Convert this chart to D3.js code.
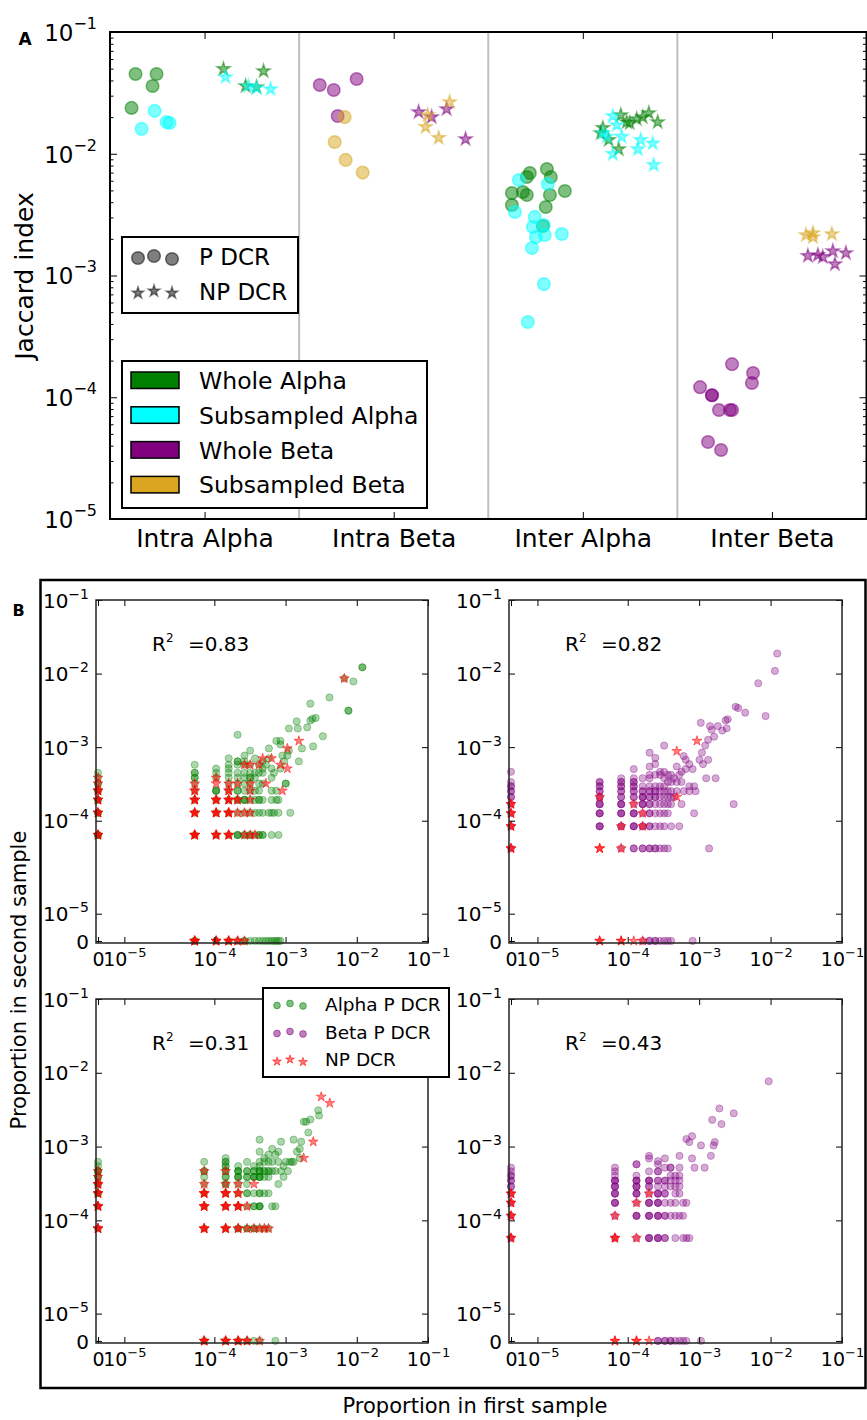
<!DOCTYPE html>
<html>
<head>
<meta charset="utf-8">
<script src="https://cdn.jsdelivr.net/npm/d3@7"></script>
<style>
body { margin: 0; background: #fff; }
svg { display: block; font-family: "DejaVu Sans", sans-serif; }
</style>
</head>
<body>
<svg id="fig" width="867" height="1420"></svg>
<script>
// ---------- panel A : Jaccard index per comparison ----------
// each point: [category index, jitter within category, Jaccard index]
var groupsA = ["Intra Alpha", "Intra Beta", "Inter Alpha", "Inter Beta"];

var wholeAlphaP = [[0,-0.365,0.0452],[0,-0.254,0.0452],[0,-0.275,0.0360],[0,-0.386,0.0238],
  [2,-0.190,0.00750],[2,-0.280,0.00695],[2,-0.296,0.00644],[2,-0.169,0.00644],[2,-0.375,0.00476],
  [2,-0.317,0.00485],[2,-0.296,0.00458],[2,-0.174,0.00458],[2,-0.095,0.00494],[2,-0.375,0.00379],
  [2,-0.196,0.00365],[2,-0.211,0.00255]];
var subAlphaP = [[0,-0.264,0.0225],[0,-0.333,0.0160],[0,-0.201,0.0182],[0,-0.185,0.0179],
  [2,-0.338,0.00608],[2,-0.185,0.00564],[2,-0.359,0.00333],[2,-0.254,0.00303],[2,-0.264,0.00250],
  [2,-0.206,0.00260],[2,-0.248,0.00207],[2,-0.201,0.00215],[2,-0.111,0.00219],[2,-0.269,0.00168],
  [2,-0.206,0.00085],[2,-0.291,0.000415]];
var wholeBetaP = [[1,-0.391,0.0367],[1,-0.317,0.0334],[1,-0.196,0.0411],[1,-0.296,0.0204],
  [3,-0.211,0.000187],[3,-0.100,0.000158],[3,-0.106,0.000131],[3,-0.380,0.000121],[3,-0.317,0.000104],
  [3,-0.317,0.000104],[3,-0.280,7.85e-5],[3,-0.222,7.85e-5],[3,-0.211,7.85e-5],[3,-0.338,4.29e-5],
  [3,-0.269,3.69e-5]];
var subBetaP = [[1,-0.259,0.0200],[1,-0.312,0.0125],[1,-0.254,0.0089],[1,-0.164,0.0070]];

var wholeAlphaNP = [[0,0.100,0.0497],[0,0.312,0.0478],[0,0.217,0.0360],[0,0.275,0.0353],
  [2,0.201,0.0208],[2,0.248,0.0179],[2,0.285,0.0193],[2,0.317,0.0200],[2,0.349,0.0216],[2,0.396,0.0182],
  [2,0.106,0.0163],[2,0.095,0.0148],[2,0.137,0.0130],[2,0.190,0.0109],[2,0.232,0.0182]];
var subAlphaNP = [[0,0.111,0.0427],[0,0.232,0.0360],[0,0.275,0.0347],[0,0.349,0.0340],
  [2,0.159,0.0204],[2,0.180,0.0172],[2,0.106,0.0148],[2,0.206,0.0138],[2,0.159,0.00996],[2,0.291,0.0109],
  [2,0.306,0.0130],[2,0.370,0.0122],[2,0.375,0.00809],[2,0.127,0.0138]];
var wholeBetaNP = [[1,0.132,0.0220],[1,0.201,0.0200],[1,0.280,0.0233],[1,0.380,0.0132],
  [3,0.190,0.00145],[3,0.243,0.00147],[3,0.269,0.00142],[3,0.322,0.00159],[3,0.333,0.00124],[3,0.391,0.00153]];
var subBetaNP = [[1,0.180,0.0208],[1,0.169,0.0166],[1,0.238,0.0135],[1,0.296,0.0266],
  [3,0.180,0.00215],[3,0.217,0.00223],[3,0.217,0.00207],[3,0.317,0.00219]];

var seriesNamesA = ["Whole Alpha", "Subsampled Alpha", "Whole Beta", "Subsampled Beta"];
var seriesColorsA = ["#008000", "#00ffff", "#800080", "#daa520"];

// ---------- panel B : clone counts in first / second sample ----------
// each point: [count in first sample, count in second sample, number of coincident clones]
var sampleTotalsFirst  = [18870, 24690, 13890, 15080];
var sampleTotalsSecond = [15625, 23810, 12890, 17360];
var rSquared = ["0.83", "0.82", "0.31", "0.43"];

var alphaP1 = [[0,7],[0,6],[0,5,2],[0,4,2],[0,3,2],[0,2,2],[0,1,3],
  [1,9],[1,7,2],[1,6,2],[1,5],[1,4],[1,3],[1,2],[1,1],[1,0,2],
  [2,8],[2,7],[2,6],[2,4,3],[2,3],[2,2],[2,1],[2,0],
  [3,11],[3,9],[3,8],[3,7],[3,6],[3,5],[3,4],[3,3],[3,2],[3,1],[3,0],
  [4,23],[4,10,2],[4,9],[4,7],[4,6],[4,5],[4,4,2],[4,3,2],[4,2],[4,1,3],[4,0],
  [5,12],[5,10],[5,9],[5,7],[5,6],[5,5],[5,4],[5,3,3],[5,2],[5,1,2],[5,0,2],
  [6,14],[6,9],[6,7],[6,6,2],[6,5],[6,4],[6,3],[6,2],[6,1,2],[6,0],
  [7,11],[7,7],[7,6],[7,4],[7,3],[7,2],[7,1],[7,0],
  [8,9],[8,7],[8,5],[8,4],[8,3,2],[8,2],[8,1,2],[8,0],
  [9,10],[9,8],[9,7],[9,5],[9,3],[9,2],[9,1,2],[9,0],
  [10,0],[11,0],[12,0],[13,0],[14,0],[15,0],[16,0],
  [11,15],[11,11],[11,2],[12,8],[12,6],[12,4],[12,3],[12,2],[12,1],[13,2],[14,3],[14,4],[15,3],[15,2],[15,1],
  [14,19],[16,19],[16,17],[17,12],[19,5,2],[20,12],[21,28],[21,14],[22,2],[27,35],[28,28],[29,10],[32,15],
  [38,29],[42,36],[45,38],[50,39],[42,61],[46,16],[63,22],[78,74],[144,49,2],[169,122],[226,190,2],[126,134],
  [10,9],[13,7],[16,8],[18,10]];
var npAlpha1 = [[0,6],[0,5],[0,4,3],[0,3,3],[0,2,3],[0,1,3],
  [1,5],[1,4,2],[1,3,3],[1,2,3],[1,1,4],[1,0,4],
  [2,6],[2,5],[2,3,3],[2,2,3],[2,1,3],[2,0,3],
  [3,5],[3,4,2],[3,3,3],[3,2,3],[3,1,3],[3,0,3],
  [4,5],[4,3,2],[4,2],[4,0,2],[5,9],[5,2],[5,1],[5,0],
  [6,9],[6,5],[6,4],[6,3],[6,2],[6,1],[7,1],[8,9],[9,11],[10,5],[12,11],[16,9],[17,4],[20,8],[20,15],[29,19],[126,134]];

var betaP2 = [[0,11],[0,8],[0,7,2],[0,6,2],[0,5,2],[0,4],[0,3],[0,2],[0,1],
  [1,8,2],[1,7,2],[1,6,2],[1,5,2],[1,4,3],[1,3,3],[1,2,3],
  [2,9],[2,8,2],[2,7,2],[2,6,2],[2,5,2],[2,4,3],[2,3,3],[2,2,2],[2,1],
  [3,12],[3,9],[3,8,2],[3,7,2],[3,6,2],[3,5,2],[3,4],[3,3,3],[3,2,3],[3,1,2],
  [4,9],[4,7],[4,6,2],[4,5,3],[4,4,3],[4,3],[4,2,2],[4,1,2],[4,0],
  [5,20],[5,13],[5,10],[5,9],[5,7],[5,6,2],[5,5,2],[5,4,2],[5,3,2],[5,2,2],[5,1,2],[5,0,2],
  [6,17],[6,14],[6,10],[6,7],[6,6,2],[6,5,2],[6,4],[6,3],[6,2],[6,1,2],[6,0,2],
  [7,11],[7,10],[7,7],[7,6],[7,5],[7,4],[7,3],[7,2],[7,1],[7,0],
  [8,25],[8,11],[8,9],[8,7],[8,6],[8,5],[8,4],[8,3],[8,2],[8,1],[8,0],
  [9,10],[9,8],[9,6],[9,5],[9,4],[9,3],[9,1],[9,0],
  [10,10],[10,8],[10,6],[10,5],[10,4],[10,2],[10,0],
  [12,13],[12,6],[13,10],[13,2],[14,8],[15,6],[16,16],[18,14],[16,12],[14,11],[12,8],[11,5],[11,9],[18,7],
  [21,7],[22,6],[21,3],[20,0],[26,51],[27,20],[30,25],[33,30],[33,16],[31,9],[35,46],[37,41],[40,33],[42,9],
  [45,46],[52,40],[58,55],[62,57],[60,43],[80,84],[87,81],[109,70],[210,63],[166,176],[284,259],[306,446],
  [75,4],[34,1],[14,4],[18,6],[20,12],[15,18],[25,16],[28,14]];
var npBeta2 = [[0,4,2],[0,3,2],[0,2,2],[0,1,2],[1,5],[1,1,2],[1,0,2],[2,2],[2,1],[2,0,2],
  [3,4],[3,0],[4,3],[4,2],[4,0],[12,21],[23,29],[12,5]];

var alphaP3 = [[0,8],[0,7],[0,6,3],[0,5,2],[0,4,2],[0,3,2],[0,2],[0,1],
  [1,8],[1,6,2],[1,5],[1,4],[1,3],[1,2],[1,1],[1,0],
  [2,9],[2,8,2],[2,7,2],[2,6,2],[2,5,2],[2,4,2],[2,3],[2,2],[2,1],[2,0],
  [3,7],[3,6,3],[3,5,3],[3,4],[3,3],[3,2],[3,1,2],[3,0],
  [4,8],[4,6,2],[4,5,2],[4,4],[4,3,2],[4,2],[4,1,2],[4,0],
  [5,7],[5,6,2],[5,5,3],[5,3],[5,2,2],[5,1,2],[5,0],
  [6,16],[6,11],[6,8],[6,7],[6,6,3],[6,5,3],[6,3,2],[6,2,3],[6,1],[6,0],
  [7,9],[7,8],[7,6,2],[7,5],[7,3],[7,1],[8,8],[8,6,2],[8,5],[8,3],[8,1],
  [9,8],[9,6],[9,2],[10,10],[10,6],[10,2],[10,0],
  [11,11],[12,15],[11,8],[13,5],[11,4],[14,8],[18,16],[18,8],[20,11],[23,15],[22,12],[25,28],[27,28],
  [29,20],[31,30],[40,40],[41,34],[22,9],[16,8],[12,6],[9,12],[8,10],[15,6],[17,8],[13,7]];
var npAlpha3 = [[0,6],[0,5],[0,4,3],[0,3,3],[0,2,3],[0,1,3],
  [1,6],[1,4],[1,3,3],[1,2,3],[1,1,3],[1,0,3],
  [2,6],[2,4],[2,3,3],[2,2,3],[2,1,3],[2,0,3],
  [3,4],[3,3,2],[3,2,3],[3,1,2],[3,0,3],[4,2],[4,1],[4,0,2],[5,4],[5,1],[6,1],[6,0],[7,1],[8,1],
  [44,61],[58,50],[34,15],[25,9]];

var betaP4 = [[0,9],[0,8],[0,7,2],[0,6,2],[0,5,2],[0,4],[0,3],[0,2],[0,1],
  [1,9],[1,8],[1,7],[1,6,3],[1,5,3],[1,4,3],[1,3,3],[1,2],[1,1],
  [2,10,2],[2,7],[2,6,3],[2,5,3],[2,4,3],[2,3],[2,2,3],[2,1],
  [3,13],[3,12],[3,8],[3,6,3],[3,5,2],[3,4],[3,3,3],[3,2,3],[3,1,3],
  [4,11],[4,10],[4,8,2],[4,6,2],[4,5],[4,4,3],[4,3,3],[4,2,3],[4,1,3],[4,0,2],
  [5,12],[5,9],[5,6,2],[5,5],[5,4,2],[5,3],[5,2,2],[5,1,2],[5,0,2],
  [6,9],[6,7],[6,6],[6,5],[6,3],[6,2],[6,0,2],
  [7,7],[7,6],[7,5],[7,4],[7,3],[7,2],[7,1],[7,0],
  [8,13],[8,9],[8,7],[8,6],[8,5],[8,4],[8,2],[8,0],
  [9,3],[9,2],[9,1],[9,0],[10,22],[10,3],[10,1],[10,0],
  [11,20],[12,24],[12,12],[13,9],[16,18],[18,9],[22,13],[24,18],[25,20],[23,40],[31,35],[29,57],[46,49],
  [142,133],[11,1],[16,0],[6,9]];
var npBeta4 = [[0,4,2],[0,3,2],[0,2,2],[0,1,2],[1,2],[1,1,2],[1,0,2],[2,3],[2,1],[2,0,2],[3,4],[3,0]];

var tickValsB = [0, 1e-5, 1e-4, 1e-3, 1e-2, 1e-1];
var tickExpB = ["", "\u22125", "\u22124", "\u22123", "\u22122", "\u22121"];
var tickValsA = [1e-5, 1e-4, 1e-3, 1e-2, 1e-1];
var tickExpA = ["\u22125", "\u22124", "\u22123", "\u22122", "\u22121"];

var svg = d3.select("#fig");

function supLabel(sel, base, exp, supSize, rise) {
  sel.text(null);
  sel.append("tspan").text(base);
  if (exp) sel.append("tspan").attr("font-size", supSize).attr("dy", -rise).text(exp);
}
function cleanAxis(g) {
  g.attr("font-family", null).attr("font-size", null);
  g.select(".domain").remove();
  g.selectAll(".tick line").attr("stroke", "#000").attr("stroke-width", 1);
  g.selectAll(".tick text").attr("fill", "#000");
}
var star = function (size) { return d3.symbol(d3.symbolStar, size)(); };

// ================= panel A =================
var xA = d3.scaleLinear().domain([-0.5, groupsA.length - 0.5]).range([110, 866.5]);
var yA = d3.scaleLog().domain([1e-5, 1e-1]).range([519, 32]);
var minorA = d3.range(-5, -1).flatMap(function (e) {
  return d3.range(2, 10).map(function (m) { return m * Math.pow(10, e); });
});

svg.append("g").selectAll("line")
  .data(d3.range(1, groupsA.length).map(function (i) { return i - 0.5; }))
  .join("line")
  .attr("x1", function (d) { return xA(d); }).attr("x2", function (d) { return xA(d); })
  .attr("y1", yA(1e-1)).attr("y2", yA(1e-5))
  .attr("stroke", "#bfbfbf").attr("stroke-width", 2);

[["axisLeft", 110], ["axisRight", 866.5]].forEach(function (s) {
  svg.append("g").attr("transform", "translate(" + s[1] + ",0)")
    .call(d3[s[0]](yA).tickValues(minorA).tickSize(-3.5).tickFormat(""))
    .call(cleanAxis);
});
var yAxisA = svg.append("g").attr("transform", "translate(110,0)")
  .call(d3.axisLeft(yA).tickValues(tickValsA).tickSize(-7).tickPadding(13).tickFormat(""))
  .call(cleanAxis);
yAxisA.selectAll(".tick text").attr("font-size", 23).attr("dy", "0.36em")
  .each(function (d, i) { supLabel(d3.select(this), "10", tickExpA[i], 16, 12); });
svg.append("g").attr("transform", "translate(866.5,0)")
  .call(d3.axisRight(yA).tickValues(tickValsA).tickSize(-7).tickFormat(""))
  .call(cleanAxis);
svg.append("g").attr("transform", "translate(0,519)")
  .call(d3.axisBottom(xA).tickValues(d3.range(groupsA.length)).tickSize(-7).tickPadding(10)
    .tickFormat(function (i) { return groupsA[i]; }))
  .call(cleanAxis)
  .selectAll(".tick text").attr("font-size", 25);
svg.append("g").attr("transform", "translate(0,32)")
  .call(d3.axisTop(xA).tickValues(d3.range(groupsA.length)).tickSize(-7).tickFormat(""))
  .call(cleanAxis);

var pointsA = [
  [wholeAlphaP, 0, "c"], [subAlphaP, 1, "c"], [wholeBetaP, 2, "c"], [subBetaP, 3, "c"],
  [wholeAlphaNP, 0, "s"], [subAlphaNP, 1, "s"], [wholeBetaNP, 2, "s"], [subBetaNP, 3, "s"]
];
pointsA.forEach(function (s) {
  var col = seriesColorsA[s[1]];
  var g = svg.append("g");
  if (s[2] === "c") {
    g.selectAll("circle").data(s[0]).join("circle")
      .attr("cx", function (d) { return xA(d[0] + d[1]); })
      .attr("cy", function (d) { return yA(d[2]); })
      .attr("r", 6.3).attr("fill", col).attr("fill-opacity", 0.5)
      .attr("stroke", col).attr("stroke-opacity", 0.5).attr("stroke-width", 1.5);
  } else {
    g.selectAll("path").data(s[0]).join("path")
      .attr("d", star(52))
      .attr("transform", function (d) { return "translate(" + xA(d[0] + d[1]) + "," + yA(d[2]) + ")"; })
      .attr("fill", col).attr("fill-opacity", 0.5)
      .attr("stroke", col).attr("stroke-opacity", 0.5).attr("stroke-width", 1.5);
  }
});

svg.append("rect").attr("x", 110).attr("y", 32).attr("width", 756.5).attr("height", 487)
  .attr("fill", "none").attr("stroke", "#000").attr("stroke-width", 2);

// legend: marker type
var lg1 = svg.append("g");
lg1.append("rect").attr("x", 122).attr("y", 237).attr("width", 176).attr("height", 76)
  .attr("fill", "#fff").attr("stroke", "#000").attr("stroke-width", 2);
[[138, 258], [154, 256], [172, 259]].forEach(function (p) {
  lg1.append("circle").attr("cx", p[0]).attr("cy", p[1]).attr("r", 6.3)
    .attr("fill", "#000").attr("fill-opacity", 0.5).attr("stroke", "#000").attr("stroke-opacity", 0.5).attr("stroke-width", 1.5);
});
[[138, 293], [154, 291], [172, 293]].forEach(function (p) {
  lg1.append("path").attr("d", star(40)).attr("transform", "translate(" + p[0] + "," + p[1] + ")")
    .attr("fill", "#000").attr("fill-opacity", 0.5).attr("stroke", "#000").attr("stroke-opacity", 0.5).attr("stroke-width", 1.5);
});
lg1.append("text").attr("x", 199).attr("y", 265).attr("font-size", 23).text("P DCR");
lg1.append("text").attr("x", 199).attr("y", 300).attr("font-size", 23).text("NP DCR");

// legend: data sets
var lg2 = svg.append("g");
lg2.append("rect").attr("x", 122).attr("y", 361).attr("width", 305).attr("height", 147)
  .attr("fill", "#fff").attr("stroke", "#000").attr("stroke-width", 2);
seriesNamesA.forEach(function (name, i) {
  var yy = 372 + i * 34.8;
  lg2.append("rect").attr("x", 131).attr("y", yy).attr("width", 48).attr("height", 16.5)
    .attr("fill", seriesColorsA[i]).attr("stroke", "#000").attr("stroke-width", 1.5);
  lg2.append("text").attr("x", 199).attr("y", yy + 17).attr("font-size", 23.5).text(name);
});

svg.append("text").attr("transform", "translate(33,276) rotate(-90)")
  .attr("text-anchor", "middle").attr("font-size", 25).text("Jaccard index");
svg.append("text").attr("x", 25).attr("y", 45).attr("text-anchor", "middle")
  .attr("font-size", 17).attr("font-weight", "bold").text("A");

// ================= panel B =================
var linThresh = 3e-5, linScale = 1 / 0.9;
function symlog(v) {
  return v <= linThresh ? linScale * v / linThresh : linScale + Math.log10(v / linThresh);
}
var lowB = -0.028, highB = symlog(1e-1);

svg.append("rect").attr("x", 40.5).attr("y", 580).attr("width", 825).attr("height", 808)
  .attr("fill", "none").attr("stroke", "#000").attr("stroke-width", 2.5);

var boxesB = [
  { l: 96, r: 428, t: 600, b: 943 },
  { l: 509, r: 842, t: 600, b: 943 },
  { l: 96, r: 428, t: 999, b: 1343 },
  { l: 509, r: 842, t: 999, b: 1343 }
];
var subsB = [
  [alphaP1, "#008000", npAlpha1], [betaP2, "#800080", npBeta2],
  [alphaP3, "#008000", npAlpha3], [betaP4, "#800080", npBeta4]
];

function expand(pts) {
  return pts.flatMap(function (p) { return d3.range(p[2] || 1).map(function () { return p; }); });
}

subsB.forEach(function (s, k) {
  var b = boxesB[k];
  var sx = d3.scaleLinear().domain([lowB, highB]).range([b.l, b.r]);
  var sy = d3.scaleLinear().domain([lowB, highB]).range([b.b, b.t]);
  var px = function (c) { return sx(symlog(c / sampleTotalsFirst[k])); };
  var py = function (c) { return sy(symlog(c / sampleTotalsSecond[k])); };
  var tv = tickValsB.map(symlog);
  var g = svg.append("g");

  g.append("g").selectAll("circle").data(expand(s[0])).join("circle")
    .attr("cx", function (d) { return px(d[0]); })
    .attr("cy", function (d) { return py(d[1]); })
    .attr("r", 3.6).attr("fill", s[1]).attr("fill-opacity", 0.33)
    .attr("stroke", s[1]).attr("stroke-opacity", 0.33).attr("stroke-width", 1);
  g.append("g").selectAll("path").data(expand(s[2])).join("path")
    .attr("d", star(30))
    .attr("transform", function (d) { return "translate(" + px(d[0]) + "," + py(d[1]) + ")"; })
    .attr("fill", "#ff0000").attr("fill-opacity", 0.5)
    .attr("stroke", "#ff0000").attr("stroke-opacity", 0.5).attr("stroke-width", 1);

  var xb = g.append("g").attr("transform", "translate(0," + b.b + ")")
    .call(d3.axisBottom(sx).tickValues(tv).tickSize(-6).tickPadding(10).tickFormat(""))
    .call(cleanAxis);
  xb.selectAll(".tick text").attr("font-size", 19)
    .each(function (d, i) { supLabel(d3.select(this), tickExpB[i] ? "10" : "0", tickExpB[i], 13, 9); });
  g.append("g").attr("transform", "translate(0," + b.t + ")")
    .call(d3.axisTop(sx).tickValues(tv).tickSize(-6).tickFormat("")).call(cleanAxis);
  var yl = g.append("g").attr("transform", "translate(" + b.l + ",0)")
    .call(d3.axisLeft(sy).tickValues(tv).tickSize(-6).tickPadding(7).tickFormat(""))
    .call(cleanAxis);
  yl.selectAll(".tick text").attr("font-size", 20).attr("dy", "0.36em")
    .each(function (d, i) { supLabel(d3.select(this), tickExpB[i] ? "10" : "0", tickExpB[i], 14, 9); });
  g.append("g").attr("transform", "translate(" + b.r + ",0)")
    .call(d3.axisRight(sy).tickValues(tv).tickSize(-6).tickFormat("")).call(cleanAxis);

  g.append("rect").attr("x", b.l).attr("y", b.t).attr("width", b.r - b.l).attr("height", b.b - b.t)
    .attr("fill", "none").attr("stroke", "#222").attr("stroke-width", 1.5);

  var rt = g.append("text").attr("x", b.l + 56).attr("y", b.t + 51).attr("font-size", 20);
  rt.append("tspan").text("R");
  rt.append("tspan").attr("font-size", 12).attr("dy", -9).text("2");
  rt.append("tspan").attr("x", b.l + 92).attr("dy", 9).text("=" + rSquared[k]);
});

// legend for panel B
var lgB = svg.append("g");
lgB.append("rect").attr("x", 263).attr("y", 988).attr("width", 186).attr("height", 89)
  .attr("fill", "#fff").attr("stroke", "#000").attr("stroke-width", 2);
var legB = [["Alpha P DCR", "#008000", "c", 0.5], ["Beta P DCR", "#800080", "c", 0.5], ["NP DCR", "#ff0000", "s", 0.55]];
legB.forEach(function (e, i) {
  var base = 1004.5 + i * 28;
  [[277, 1], [290, -1], [303, 1.5]].forEach(function (m) {
    if (e[2] === "c") {
      lgB.append("circle").attr("cx", m[0]).attr("cy", base + m[1]).attr("r", 3.4)
        .attr("fill", e[1]).attr("fill-opacity", e[3]).attr("stroke", e[1]).attr("stroke-opacity", e[3]);
    } else {
      lgB.append("path").attr("d", star(24)).attr("transform", "translate(" + m[0] + "," + (base + m[1]) + ")")
        .attr("fill", e[1]).attr("fill-opacity", e[3]).attr("stroke", e[1]).attr("stroke-opacity", e[3]);
    }
  });
  lgB.append("text").attr("x", 325).attr("y", 1011 + i * 27.5).attr("font-size", 18.5).text(e[0]);
});

svg.append("text").attr("transform", "translate(26,980) rotate(-90)")
  .attr("text-anchor", "middle").attr("font-size", 21).text("Proportion in second sample");
svg.append("text").attr("x", 475).attr("y", 1413).attr("text-anchor", "middle")
  .attr("font-size", 21).text("Proportion in first sample");
svg.append("text").attr("x", 18.5).attr("y", 616).attr("text-anchor", "middle")
  .attr("font-size", 16).attr("font-weight", "bold").text("B");
</script>
</body>
</html>
